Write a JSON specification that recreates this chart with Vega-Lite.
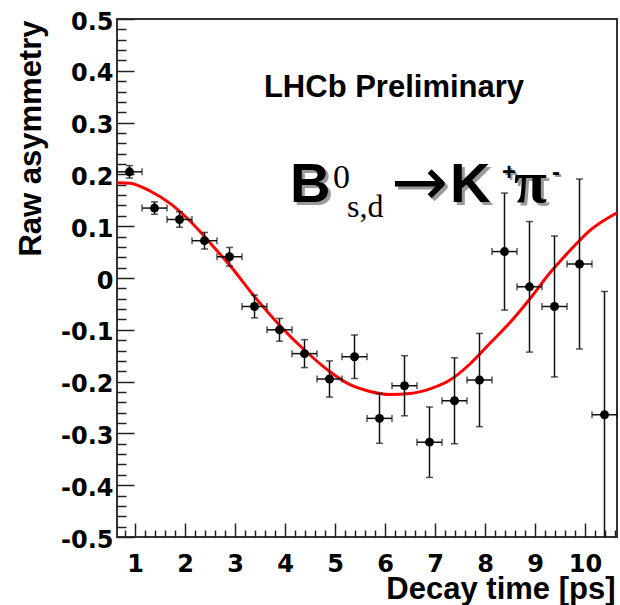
{
  "$schema": "https://vega.github.io/schema/vega-lite/v6.json",
  "width": 500,
  "height": 518,
  "autosize": {"type": "none"},
  "padding": {"left": 117, "top": 19, "right": 3, "bottom": 68},
  "background": "white",
  "config": {
    "view": {"stroke": "#333", "strokeWidth": 2},
    "axis": {"domain": false, "grid": false}
  },
  "datasets": {
    "points": [
      {"t": 0.89, "a": 0.205, "tlo": 0.64, "thi": 1.14, "alo": 0.193, "ahi": 0.217},
      {"t": 1.39, "a": 0.135, "tlo": 1.14, "thi": 1.64, "alo": 0.123, "ahi": 0.147},
      {"t": 1.89, "a": 0.113, "tlo": 1.64, "thi": 2.14, "alo": 0.098, "ahi": 0.128},
      {"t": 2.39, "a": 0.072, "tlo": 2.14, "thi": 2.64, "alo": 0.056, "ahi": 0.088},
      {"t": 2.89, "a": 0.041, "tlo": 2.64, "thi": 3.14, "alo": 0.023, "ahi": 0.059},
      {"t": 3.39, "a": -0.055, "tlo": 3.14, "thi": 3.64, "alo": -0.077, "ahi": -0.033},
      {"t": 3.89, "a": -0.100, "tlo": 3.64, "thi": 4.14, "alo": -0.122, "ahi": -0.078},
      {"t": 4.39, "a": -0.146, "tlo": 4.14, "thi": 4.64, "alo": -0.173, "ahi": -0.119},
      {"t": 4.89, "a": -0.195, "tlo": 4.64, "thi": 5.14, "alo": -0.230, "ahi": -0.160},
      {"t": 5.39, "a": -0.152, "tlo": 5.14, "thi": 5.64, "alo": -0.194, "ahi": -0.110},
      {"t": 5.89, "a": -0.271, "tlo": 5.64, "thi": 6.14, "alo": -0.319, "ahi": -0.223},
      {"t": 6.39, "a": -0.208, "tlo": 6.14, "thi": 6.64, "alo": -0.266, "ahi": -0.150},
      {"t": 6.89, "a": -0.317, "tlo": 6.64, "thi": 7.14, "alo": -0.385, "ahi": -0.249},
      {"t": 7.39, "a": -0.237, "tlo": 7.14, "thi": 7.64, "alo": -0.320, "ahi": -0.154},
      {"t": 7.89, "a": -0.197, "tlo": 7.64, "thi": 8.14, "alo": -0.287, "ahi": -0.107},
      {"t": 8.39, "a": 0.051, "tlo": 8.14, "thi": 8.64, "alo": -0.062, "ahi": 0.164},
      {"t": 8.89, "a": -0.017, "tlo": 8.64, "thi": 9.14, "alo": -0.143, "ahi": 0.109},
      {"t": 9.39, "a": -0.055, "tlo": 9.14, "thi": 9.64, "alo": -0.191, "ahi": 0.081},
      {"t": 9.89, "a": 0.027, "tlo": 9.64, "thi": 10.14, "alo": -0.137, "ahi": 0.191},
      {"t": 10.39, "a": -0.264, "tlo": 10.14, "thi": 10.64, "alo": -0.502, "ahi": -0.026}
    ],
    "fit": [
      {"t": 0.64, "a": 0.184},
      {"t": 0.9, "a": 0.183},
      {"t": 1.3, "a": 0.168},
      {"t": 1.7, "a": 0.144},
      {"t": 2.1, "a": 0.110},
      {"t": 2.5, "a": 0.068},
      {"t": 2.9, "a": 0.024},
      {"t": 3.4, "a": -0.037},
      {"t": 3.9, "a": -0.092},
      {"t": 4.4, "a": -0.140},
      {"t": 4.9, "a": -0.181},
      {"t": 5.3, "a": -0.206},
      {"t": 5.7, "a": -0.219},
      {"t": 6.1, "a": -0.225},
      {"t": 6.5, "a": -0.223},
      {"t": 6.9, "a": -0.214},
      {"t": 7.3, "a": -0.197},
      {"t": 7.7, "a": -0.166},
      {"t": 8.1, "a": -0.126},
      {"t": 8.5, "a": -0.086},
      {"t": 8.9, "a": -0.040},
      {"t": 9.3, "a": 0.010},
      {"t": 9.7, "a": 0.053},
      {"t": 10.1, "a": 0.092},
      {"t": 10.64, "a": 0.126}
    ]
  },
  "encoding": {
    "x": {"field": "t", "type": "quantitative"},
    "y": {"field": "a", "type": "quantitative"}
  },
  "layer": [
    {
      "data": {"name": "fit"},
      "mark": {"type": "line", "color": "#ff0000", "strokeWidth": 3, "interpolate": "monotone", "clip": true},
      "encoding": {
        "x": {
          "field": "t", "type": "quantitative",
          "scale": {"domain": [0.64, 10.64], "nice": false, "zero": false},
          "axis": {
            "orient": "bottom",
            "values": [0.8, 1, 1.2, 1.4, 1.6, 1.8, 2, 2.2, 2.4, 2.6, 2.8, 3, 3.2, 3.4, 3.6, 3.8, 4, 4.2, 4.4, 4.6, 4.8, 5, 5.2, 5.4, 5.6, 5.8, 6, 6.2, 6.4, 6.6, 6.8, 7, 7.2, 7.4, 7.6, 7.8, 8, 8.2, 8.4, 8.6, 8.8, 9, 9.2, 9.4, 9.6, 9.8, 10, 10.2, 10.4, 10.6],
            "tickCount": 200,
            "labelOverlap": false,
            "labelBound": false,
            "labelFlush": false,
            "tickSize": {"condition": {"test": "abs(datum.value - round(datum.value)) < 0.001", "value": -14}, "value": -7},
            "tickWidth": 1.5,
            "tickColor": "#222",
            "labelExpr": "abs(datum.value - round(datum.value)) < 0.001 ? '' + round(datum.value) : ''",
            "labelFont": "DejaVu Sans",
            "labelFontWeight": "bold",
            "labelFontSize": 24,
            "labelColor": "black",
            "labelBaseline": "top",
            "labelPadding": 29,
            "title": "Decay time [ps]",
            "titleFont": "Liberation Sans",
            "titleFontWeight": "bold",
            "titleFontSize": 31,
            "titleColor": "black",
            "titleAnchor": null,
            "titleX": 498,
            "titleY": 61,
            "titleAlign": "right",
            "titleBaseline": "alphabetic"
          }
        },
        "y": {
          "field": "a", "type": "quantitative",
          "scale": {"domain": [-0.5, 0.5], "nice": false, "zero": false},
          "axis": {
            "orient": "left",
            "values": [-0.5, -0.48, -0.46, -0.44, -0.42, -0.4, -0.38, -0.36, -0.34, -0.32, -0.3, -0.28, -0.26, -0.24, -0.22, -0.2, -0.18, -0.16, -0.14, -0.12, -0.1, -0.08, -0.06, -0.04, -0.02, 0, 0.02, 0.04, 0.06, 0.08, 0.1, 0.12, 0.14, 0.16, 0.18, 0.2, 0.22, 0.24, 0.26, 0.28, 0.3, 0.32, 0.34, 0.36, 0.38, 0.4, 0.42, 0.44, 0.46, 0.48, 0.5],
            "tickCount": 200,
            "labelOverlap": false,
            "labelBound": false,
            "labelFlush": false,
            "tickSize": {"condition": {"test": "abs(datum.value*10 - round(datum.value*10)) < 0.001", "value": -17}, "value": -9},
            "tickWidth": 1.5,
            "tickColor": "#222",
            "labelExpr": "abs(datum.value*10 - round(datum.value*10)) < 0.001 ? (datum.value == 0 ? '0' : '' + datum.value) : ''",
            "labelFont": "DejaVu Sans",
            "labelFontWeight": "bold",
            "labelFontSize": 24,
            "labelColor": "black",
            "labelBaseline": "middle",
            "labelOffset": 3,
            "labelPadding": 21,
            "title": "Raw asymmetry",
            "titleFont": "Liberation Sans",
            "titleFontWeight": "bold",
            "titleFontSize": 31,
            "titleColor": "black",
            "titleAnchor": null,
            "titleAngle": -90,
            "titleX": -86,
            "titleY": 1,
            "titleAlign": "right",
            "titleBaseline": "middle"
          }
        }
      }
    },
    {
      "data": {"name": "points"},
      "mark": {"type": "rule", "color": "#111", "strokeWidth": 1.5},
      "encoding": {"x": {"field": "tlo", "type": "quantitative"}, "x2": {"field": "thi"}}
    },
    {
      "data": {"name": "points"},
      "mark": {"type": "rule", "color": "#111", "strokeWidth": 1.5, "clip": true},
      "encoding": {"y": {"field": "alo", "type": "quantitative"}, "y2": {"field": "ahi"}}
    },
    {
      "data": {"name": "points"},
      "mark": {"type": "tick", "orient": "horizontal", "color": "#111", "size": 7, "thickness": 1.5, "clip": true},
      "encoding": {"y": {"field": "alo", "type": "quantitative"}}
    },
    {
      "data": {"name": "points"},
      "mark": {"type": "tick", "orient": "horizontal", "color": "#111", "size": 7, "thickness": 1.5},
      "encoding": {"y": {"field": "ahi", "type": "quantitative"}}
    },
    {
      "data": {"name": "points"},
      "mark": {"type": "tick", "orient": "vertical", "color": "#111", "size": 7, "thickness": 1.5},
      "encoding": {"x": {"field": "tlo", "type": "quantitative"}}
    },
    {
      "data": {"name": "points"},
      "mark": {"type": "tick", "orient": "vertical", "color": "#111", "size": 7, "thickness": 1.5},
      "encoding": {"x": {"field": "thi", "type": "quantitative"}}
    },
    {
      "data": {"name": "points"},
      "mark": {"type": "circle", "color": "black", "size": 80, "opacity": 1}
    },
    {
      "data": {"values": [{"t": 6.18, "a": 0.35, "label": "LHCb Preliminary"}]},
      "mark": {"type": "text", "font": "Liberation Sans", "fontWeight": "bold", "fontSize": 31, "align": "center", "baseline": "alphabetic", "color": "black"},
      "encoding": {"text": {"field": "label"}}
    },
    {
      "data": {"values": [{"t": 4.10, "a": 0.147, "label": "B"}, {"t": 7.30, "a": 0.147, "label": "K"}]},
      "mark": {"type": "text", "font": "Liberation Sans", "fontWeight": "bold", "fontSize": 56, "align": "left", "baseline": "alphabetic", "color": "#9a9a9a", "dx": 3, "dy": 3},
      "encoding": {"text": {"field": "label"}}
    },
    {
      "data": {"values": [{"t": 6.12, "a": 0.180, "label": "→"}]},
      "mark": {"type": "text", "font": "DejaVu Sans", "fontSize": 68, "align": "left", "baseline": "middle", "color": "#9a9a9a", "dx": 3, "dy": 3},
      "encoding": {"text": {"field": "label"}}
    },
    {
      "data": {"values": [{"t": 8.34, "a": 0.190, "label": "+"}, {"t": 9.34, "a": 0.190, "label": "-"}]},
      "mark": {"type": "text", "font": "Liberation Sans", "fontWeight": "bold", "fontSize": 24, "align": "left", "baseline": "alphabetic", "color": "#9a9a9a", "dx": 2, "dy": 2},
      "encoding": {"text": {"field": "label"}}
    },
    {
      "data": {"values": [{"t": 8.58, "a": 0.147, "label": "π"}]},
      "mark": {"type": "text", "font": "Liberation Serif", "fontWeight": "bold", "fontSize": 60, "align": "left", "baseline": "alphabetic", "color": "#9a9a9a", "dx": 3, "dy": 3},
      "encoding": {"text": {"field": "label"}}
    },
    {
      "data": {"values": [{"t": 4.10, "a": 0.147, "label": "B"}, {"t": 7.30, "a": 0.147, "label": "K"}]},
      "mark": {"type": "text", "font": "Liberation Sans", "fontWeight": "bold", "fontSize": 56, "align": "left", "baseline": "alphabetic", "color": "black"},
      "encoding": {"text": {"field": "label"}}
    },
    {
      "data": {"values": [{"t": 6.12, "a": 0.180, "label": "→"}]},
      "mark": {"type": "text", "font": "DejaVu Sans", "fontSize": 68, "align": "left", "baseline": "middle", "color": "black"},
      "encoding": {"text": {"field": "label"}}
    },
    {
      "data": {"values": [{"t": 8.34, "a": 0.190, "label": "+"}, {"t": 9.34, "a": 0.190, "label": "-"}]},
      "mark": {"type": "text", "font": "Liberation Sans", "fontWeight": "bold", "fontSize": 24, "align": "left", "baseline": "alphabetic", "color": "black"},
      "encoding": {"text": {"field": "label"}}
    },
    {
      "data": {"values": [{"t": 8.58, "a": 0.147, "label": "π"}]},
      "mark": {"type": "text", "font": "Liberation Serif", "fontWeight": "bold", "fontSize": 60, "align": "left", "baseline": "alphabetic", "color": "black"},
      "encoding": {"text": {"field": "label"}}
    },
    {
      "data": {"values": [{"t": 4.96, "a": 0.174, "label": "0"}]},
      "mark": {"type": "text", "font": "Liberation Serif", "fontSize": 34, "align": "left", "baseline": "alphabetic", "color": "black"},
      "encoding": {"text": {"field": "label"}}
    },
    {
      "data": {"values": [{"t": 5.24, "a": 0.118, "label": "s,d"}]},
      "mark": {"type": "text", "font": "Liberation Serif", "fontSize": 32, "align": "left", "baseline": "alphabetic", "color": "black"},
      "encoding": {"text": {"field": "label"}}
    }
  ]
}
